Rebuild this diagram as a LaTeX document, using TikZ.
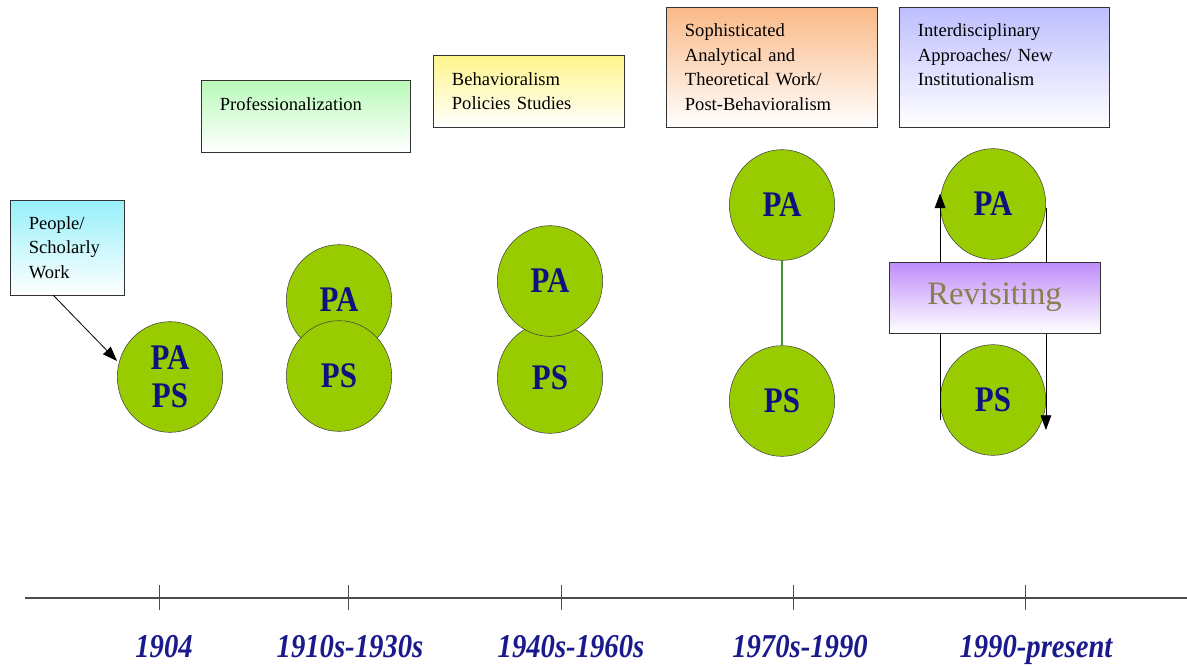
\documentclass[tikz,border=0pt]{standalone}
\usepackage{fontspec}
\setmainfont{Liberation Serif}
\newfontfamily\narrowserif[FakeStretch=0.86]{Liberation Serif}
\usepackage{xcolor}
\usetikzlibrary{arrows.meta}
\usetikzlibrary{shapes.geometric}

\definecolor{fieldgreen}{RGB}{153,204,0}
\definecolor{fieldnavy}{RGB}{16,16,128}
\definecolor{yearnavy}{RGB}{26,26,140}
\definecolor{revbrown}{RGB}{140,125,80}
\definecolor{linkgreen}{RGB}{60,150,50}

\begin{document}
\begin{tikzpicture}[x=0.75pt,y=0.75pt,yscale=-1,xscale=1,
  field/.style={ellipse,draw=black!75,fill=fieldgreen,minimum width=79pt,minimum height=83pt,inner sep=0pt,
    text=fieldnavy,align=center,font=\narrowserif\bfseries\fontsize{27}{28.5}\selectfont},
  era/.style={rectangle,draw=black!80,anchor=north west,align=left,inner xsep=14pt,inner ysep=0pt,
    bottom color=white,font=\fontsize{13.9}{18.4}\selectfont},
  yearlbl/.style={anchor=base,text=yearnavy,font=\narrowserif\bfseries\itshape\fontsize{25}{27}\selectfont},
  tickline/.style={draw=black!70,line width=0.6pt},
  pointer/.style={-{Triangle[length=11pt,width=8pt]},line width=0.6pt}]
\useasboundingbox (0,0) rectangle (1187,665);

%Shape: Time Axis
\draw [black!70,line width=2.2pt] (25,598) -- (1187,598) ;
\foreach \tx/\lx/\yr in {159/164/1904, 348/350/1910s-1930s, 561/571/1940s-1960s, 793/800/1970s-1990, 1025/1036/1990-present}{
  \draw [tickline] (\tx,585) -- (\tx,610) ;
  \node [yearlbl] (yr\tx) at (\lx,657) {\yr};
}

% Era Boxes
\node [era,top color={rgb,255:red,150;green,240;blue,250},text width=57.5pt,minimum height=71pt] (people) at (10,200) {People/\\Scholarly\\Work};
\node [era,top color={rgb,255:red,185;green,250;blue,185},text width=129pt,minimum height=54pt] (prof) at (201,80) {Professionalization\\~};
\node [era,top color={rgb,255:red,255;green,245;blue,140},text width=115.5pt,minimum height=54pt] (behav) at (433,55) {Behavioralism\\Policies Studies};
\node [era,top color={rgb,255:red,250;green,185;blue,135},text width=130.5pt,minimum height=90pt] (sophist) at (666,7) {Sophisticated\\Analytical and\\Theoretical Work/\\Post-Behavioralism};
\node [era,top color={rgb,255:red,190;green,190;blue,255},text width=129.75pt,minimum height=90pt] (interdis) at (899,7) {Interdisciplinary\\Approaches/ New\\Institutionalism\\~};

%Shape: 1904
\node [field] (papsA) at (170,377) {PA\\PS};
\draw [pointer] ([xshift=-10.5pt]people.south) -- ([yshift=-12pt]papsA.west) ;

%Shape: 1910s-1930s
\node [field] (paB) at (339,300) {PA};
\node [field] (psB) at (339,376) {PS};

%Shape: 1940s-1960s
\node [field] (psC) at (550,378) {PS};
\node [field] (paC) at (550,281) {PA};

%Shape: 1970s-1990
\node [field] (paD) at (782,205) {PA};
\node [field] (psD) at (782,401) {PS};
\draw [linkgreen,line width=0.8pt] (paD.south) -- (psD.north) ;

%Shape: 1990-present
\node [field] (paE) at (993,204) {PA};
\node [field] (psE) at (993,400) {PS};
\draw [pointer] ([yshift=15pt]psE.west) -- ([yshift=-8pt]paE.west) ;
\draw [pointer] ([yshift=3pt]paE.east) -- ([yshift=22.5pt]psE.east) ;
\node [rectangle,draw=black!80,top color={rgb,255:red,190;green,140;blue,250},bottom color=white,
  minimum width=158pt,minimum height=53pt,text=revbrown,font=\fontsize{24.5}{26}\selectfont] (revisit) at (994.5,297.5) {Revisiting};

\end{tikzpicture}
\end{document}
